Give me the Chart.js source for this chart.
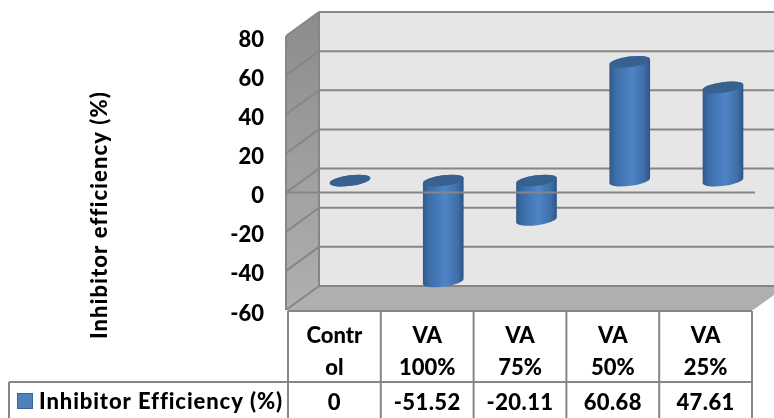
<!DOCTYPE html>
<html>
<head>
<meta charset="utf-8">
<style>html,body{margin:0;padding:0;background:#fff}canvas{display:block}</style>
<script src="https://cdn.jsdelivr.net/npm/chart.js@4"></script>
</head>
<body>
<div style="width:774px;height:418px"><canvas id="c" width="774" height="418"></canvas></div>
<script>
const categories = [["Contr","ol"],["VA","100%"],["VA","75%"],["VA","50%"],["VA","25%"]];
const valueLabels = ["0","-51.52","-20.11","60.68","47.61"];
const values = [0,-51.52,-20.11,60.68,47.61];
const seriesName = "Inhibitor Efficiency (%)";
const yTitle = "Inhibitor efficiency (%)";
const yMin = -60, yMax = 80, yStep = 20;

const FONT = 'Lato, "Open Sans", sans-serif';
const FW = '900';
const FS = 22;
const GRID = '#868686';
const DX = 33, DY = -24;          // depth of the 3D box
const TILT = -7.5 * Math.PI / 180;

class CylinderElement extends Chart.BarElement {
  draw(ctx) {
    const cx = 350 + (this.x - 334.4) * 1.00485, r = this.width / 2;
    const top = Math.min(this.y, this.base) + DY / 2;
    const bot = Math.max(this.y, this.base) + DY / 2;
    const ry = 5.3;
    const g = ctx.createLinearGradient(cx - r, 0, cx + r, 0);
    g.addColorStop(0, '#2f5888');
    g.addColorStop(0.14, '#3b6ca6');
    g.addColorStop(0.55, '#4f84c6');
    g.addColorStop(0.85, '#3f6fa8');
    g.addColorStop(1, '#2d5484');
    ctx.save();
    ctx.beginPath();
    ctx.ellipse(cx, bot, r, ry, TILT, 0, Math.PI, false);
    ctx.ellipse(cx, top, r, ry, TILT, Math.PI, 0, false);
    ctx.closePath();
    ctx.fillStyle = g;
    ctx.fill();
    ctx.beginPath();
    ctx.ellipse(cx, top, r, ry, TILT, 0, Math.PI * 2);
    ctx.fillStyle = '#37618f';
    ctx.fill();
    ctx.restore();
  }
}
CylinderElement.id = 'cylinder';
class CylinderController extends Chart.BarController {}
CylinderController.id = 'cylinderBar';
CylinderController.defaults = Object.assign({}, Chart.BarController.defaults, {dataElementType: 'cylinder'});
CylinderController.overrides = Chart.BarController.overrides;
Chart.register(CylinderElement, CylinderController);

const box3d = {
  id: 'box3d',
  beforeDatasetsDraw(chart) {
    const {ctx, chartArea: a, scales: {y}} = chart;
    const W = chart.width, L = a.left - 2, R = a.right + 1, T = a.top, B = a.bottom;
    const bx = L + DX, bT = T + DY, bB = B + DY;
    ctx.save();
    ctx.fillStyle = '#e6e6e6';
    ctx.fillRect(bx, bT, W - bx, bB - bT);
    const wall = ctx.createLinearGradient(0, bT, 0, B);
    wall.addColorStop(0, '#8c8c8c');
    wall.addColorStop(1, '#b0b0b0');
    ctx.fillStyle = wall;
    ctx.beginPath();
    ctx.moveTo(L, T); ctx.lineTo(bx, bT); ctx.lineTo(bx, bB); ctx.lineTo(L, B); ctx.closePath(); ctx.fill();
    ctx.fillStyle = '#afafaf';
    ctx.beginPath();
    ctx.moveTo(L, B); ctx.lineTo(bx, bB); ctx.lineTo(W, bB); ctx.lineTo(W, bB + 9); ctx.lineTo(R, B); ctx.closePath(); ctx.fill();
    ctx.strokeStyle = GRID; ctx.lineWidth = 2;
    y.ticks.forEach(t => {
      const py = y.getPixelForValue(t.value);
      ctx.beginPath(); ctx.moveTo(bx, py + DY); ctx.lineTo(W, py + DY); ctx.stroke();
      ctx.beginPath(); ctx.moveTo(L, py); ctx.lineTo(bx, py + DY); ctx.stroke();
    });
    ctx.beginPath(); ctx.moveTo(L, T); ctx.lineTo(L, B); ctx.stroke();
    ctx.beginPath(); ctx.moveTo(bx, bT); ctx.lineTo(bx, bB); ctx.stroke();
    ctx.restore();
  },
  afterDatasetsDraw(chart) {
    const {ctx, chartArea: a, scales: {x, y}} = chart;
    const T0 = a.bottom + 1, M = 382, E = chart.height + 4;
    ctx.save();
    ctx.strokeStyle = GRID; ctx.lineWidth = 2;
    const z = y.getPixelForValue(0);
    ctx.beginPath(); ctx.moveTo(a.left - 2, z); ctx.lineTo(a.right + 3, z); ctx.stroke();
    // data table
    ctx.beginPath();
    ctx.moveTo(a.left, T0); ctx.lineTo(a.right, T0);
    ctx.moveTo(9, M); ctx.lineTo(a.right, M);
    ctx.moveTo(9, M); ctx.lineTo(9, E);
    const n = categories.length, cw = (a.right - a.left) / n;
    for (let i = 0; i <= n; i++) {
      const px = a.left + i * cw;
      ctx.moveTo(px, T0); ctx.lineTo(px, E);
    }
    ctx.stroke();
    ctx.fillStyle = '#000';
    ctx.textAlign = 'center'; ctx.textBaseline = 'middle';
    ctx.font = FW + ' ' + FS + 'px ' + FONT;
    ctx.letterSpacing = '0.4px';
    valueLabels.forEach((v, i) => ctx.fillText(v, x.getPixelForValue(i), 403));
    // legend entry
    ctx.fillStyle = '#4f81bd'; ctx.strokeStyle = '#3a6596'; ctx.lineWidth = 1;
    ctx.fillRect(17.5, 393.5, 15, 15); ctx.strokeRect(17.5, 393.5, 15, 15);
    ctx.fillStyle = '#000'; ctx.textAlign = 'left';
    ctx.letterSpacing = '0.9px';
    ctx.fillText(seriesName, 39, 402);
    // axis title
    ctx.translate(100, 215); ctx.rotate(-Math.PI / 2);
    ctx.textAlign = 'center';
    ctx.letterSpacing = '1.1px';
    ctx.fillText(yTitle, 0, 0);
    ctx.restore();
  }
};

new Chart(document.getElementById('c'), {
  type: 'cylinderBar',
  data: {
    labels: categories,
    datasets: [{label: seriesName, data: values, backgroundColor: '#4f81bd', barThickness: 41, clip: false}]
  },
  options: {
    responsive: false,
    animation: false,
    layout: {padding: {top: 36, right: 22, left: 0, bottom: 0}},
    plugins: {legend: {display: false}, tooltip: {enabled: false}},
    scales: {
      x: {
        grid: {display: false, drawTicks: false},
        border: {display: false},
        offset: true,
        afterFit(s) { s.height = 108; },
        ticks: {color: '#000', padding: 10, maxRotation: 0, autoSkip: false,
                font: {family: FONT, weight: FW, size: FS, lineHeight: 32 / FS}}
      },
      y: {
        min: yMin, max: yMax,
        grid: {display: false, drawTicks: false},
        border: {display: false},
        afterFit(s) { s.width = 288; },
        ticks: {stepSize: yStep, color: '#000', padding: 24, autoSkip: false,
                callback: v => ['', String(v)],
                font: {family: FONT, weight: FW, size: FS, lineHeight: 0.32}}
      }
    }
  },
  plugins: [box3d]
});
</script>
</body>
</html>
